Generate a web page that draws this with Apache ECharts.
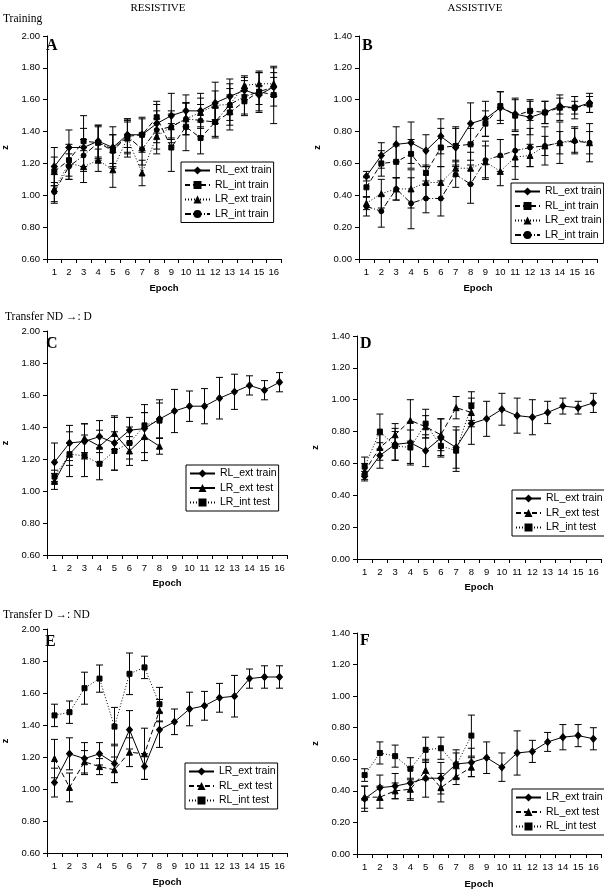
<!DOCTYPE html>
<html><head><meta charset="utf-8">
<script src="https://cdn.jsdelivr.net/npm/echarts@6/dist/echarts.min.js"></script>
<style>html,body{margin:0;padding:0;background:#fff}#c{width:604px;height:890px}</style>
</head><body><div id="c"></div>
<script>
const epochs = ['1','2','3','4','5','6','7','8','9','10','11','12','13','14','15','16'];
const yTicksR = [0.6, 2.0, 0.2];   // resistive panels: min, max, step
const yTicksA = [0.0, 1.4, 0.2];   // assistive panels

// Panel A – Resistive, training
const A_RLext = [1.18,1.30,1.30,1.34,1.30,1.38,1.38,1.45,1.50,1.53,1.53,1.58,1.62,1.66,1.63,1.68];
const A_RLext_err = [0.12,0.11,0.12,0.10,0.13,0.08,0.11,0.12,0.14,0.10,0.11,0.13,0.11,0.06,0.06,0.06];
const A_RLint = [1.15,1.22,1.34,1.33,1.28,1.37,1.38,1.49,1.30,1.43,1.36,1.46,1.52,1.59,1.65,1.63];
const A_RLint_err = [0.09,0.10,0.16,0.11,0.10,0.11,0.10,0.10,0.15,0.15,0.10,0.10,0.11,0.08,0.13,0.18];
const A_LRext = [1.04,1.20,1.18,1.22,1.16,1.36,1.14,1.37,1.43,1.48,1.52,1.565,1.57,1.69,1.70,1.70];
const A_LRext_err = [0.09,0.10,0.10,0.07,0.11,0.12,0.08,0.11,0.08,0.10,0.09,0.09,0.13,0.06,0.07,0.07];
const A_LRint = [1.02,1.18,1.25,1.33,1.29,1.37,1.29,1.41,1.43,1.48,1.47,1.46,1.57,1.62,1.65,1.68];
const A_LRint_err = [0.06,0.08,0.10,0.10,0.09,0.10,0.10,0.12,0.10,0.10,0.10,0.09,0.10,0.12,0.12,0.12];

// Panel B – Assistive, training
const B_RLext = [0.52,0.65,0.72,0.73,0.68,0.77,0.70,0.85,0.88,0.95,0.91,0.89,0.92,0.96,0.95,0.98];
const B_RLext_err = [0.03,0.08,0.11,0.13,0.10,0.11,0.12,0.13,0.11,0.10,0.10,0.11,0.07,0.05,0.04,0.06];
const B_RLint = [0.45,0.60,0.61,0.66,0.54,0.70,0.71,0.72,0.85,0.96,0.90,0.93,0.92,0.95,0.95,0.97];
const B_RLint_err = [0.06,0.08,0.10,0.09,0.05,0.12,0.12,0.10,0.08,0.09,0.10,0.06,0.07,0.08,0.07,0.05];
const B_LRext = [0.35,0.41,0.44,0.44,0.48,0.48,0.57,0.57,0.61,0.55,0.64,0.65,0.71,0.73,0.75,0.73];
const B_LRext_err = [0.04,0.09,0.07,0.12,0.10,0.10,0.05,0.10,0.10,0.09,0.14,0.07,0.06,0.07,0.08,0.07];
const B_LRint = [0.33,0.30,0.44,0.35,0.38,0.38,0.53,0.47,0.62,0.65,0.68,0.70,0.71,0.73,0.74,0.73];
const B_LRint_err = [0.06,0.10,0.07,0.16,0.09,0.11,0.08,0.12,0.12,0.10,0.10,0.12,0.12,0.13,0.08,0.12];

// Panel C – Resistive, transfer ND -> D
const C_RLext = [1.18,1.30,1.31,1.34,1.30,1.38,1.39,1.45,1.50,1.53,1.53,1.58,1.62,1.66,1.63,1.68];
const C_RLext_err = [0.12,0.11,0.11,0.10,0.17,0.08,0.15,0.12,0.135,0.095,0.11,0.13,0.11,0.06,0.06,0.06];
const C_LRext = [1.06,1.23,1.33,1.28,1.36,1.25,1.34,1.28];
const C_LRext_err = [0.05,0.14,0.09,0.10,0.10,0.09,0.15,0.05];
const C_LRint = [1.09,1.23,1.22,1.17,1.25,1.30,1.41,1.44];
const C_LRint_err = [0.04,0.07,0.13,0.10,0.12,0.10,0.08,0.11];

// Panel D – Assistive, transfer ND -> D
const D_RLext = [0.52,0.65,0.72,0.73,0.68,0.76,0.70,0.85,0.88,0.94,0.90,0.89,0.92,0.96,0.95,0.98];
const D_RLext_err = [0.03,0.08,0.10,0.13,0.10,0.12,0.13,0.13,0.11,0.10,0.11,0.11,0.07,0.05,0.04,0.06];
const D_LRext = [0.55,0.70,0.78,0.87,0.83,0.78,0.95,0.92];
const D_LRext_err = [0.05,0.08,0.07,0.13,0.07,0.10,0.07,0.09];
const D_LRint = [0.58,0.80,0.71,0.70,0.85,0.71,0.68,0.96];
const D_LRint_err = [0.06,0.11,0.09,0.11,0.09,0.06,0.13,0.09];

// Panel E – Resistive, transfer D -> ND
const E_LRext = [1.04,1.22,1.19,1.22,1.16,1.37,1.14,1.37,1.42,1.50,1.52,1.57,1.58,1.69,1.70,1.70];
const E_LRext_err = [0.09,0.10,0.10,0.07,0.12,0.12,0.08,0.11,0.08,0.105,0.09,0.09,0.13,0.06,0.07,0.07];
const E_RLext = [1.19,1.01,1.17,1.14,1.12,1.23,1.22,1.49];
const E_RLext_err = [0.12,0.09,0.07,0.05,0.08,0.09,0.16,0.07];
const E_RLint = [1.46,1.48,1.63,1.69,1.39,1.72,1.76,1.53];
const E_RLint_err = [0.07,0.07,0.10,0.085,0.12,0.13,0.07,0.105];

// Panel F – Assistive, transfer D -> ND
const F_LRext = [0.35,0.42,0.43,0.45,0.48,0.48,0.57,0.58,0.61,0.55,0.64,0.65,0.71,0.74,0.75,0.73];
const F_LRext_err = [0.08,0.08,0.08,0.10,0.12,0.10,0.09,0.09,0.10,0.09,0.14,0.07,0.06,0.08,0.07,0.07];
const F_RLext = [0.36,0.36,0.40,0.41,0.53,0.42,0.49,0.55];
const F_RLext_err = [0.07,0.07,0.05,0.07,0.06,0.09,0.05,0.06];
const F_RLint = [0.50,0.64,0.62,0.54,0.66,0.67,0.56,0.75];
const F_RLint_err = [0.04,0.07,0.07,0.07,0.08,0.07,0.08,0.13];

const SANS = "'Liberation Sans', Arial, sans-serif";
const SERIF = "'Liberation Serif', 'Times New Roman', serif";

const STY = {
  solidDiamond: {type:'solid', symbol:'diamond', size:[6,7]},
  solidTriangle: {type:'solid', symbol:'triangle', size:6},
  dashSquare: {type:[5,3], symbol:'rect', size:5},
  dashTriangle: {type:[5,3], symbol:'triangle', size:6},
  dotTriangle: {type:[1,2], symbol:'triangle', size:6},
  dotSquare: {type:[1,2], symbol:'rect', size:5},
  dashDotCircle: {type:[6,2,1,2], symbol:'circle', size:5}
};

const grids = [
  {left:43, top:36, width:238, height:223},
  {left:359, top:36, width:238, height:223},
  {left:42, top:331, width:245, height:224},
  {left:357, top:336, width:244, height:223},
  {left:42, top:629, width:245, height:224},
  {left:357, top:633, width:244, height:222}
];
const yRanges = [yTicksR, yTicksA, yTicksR, yTicksA, yTicksR, yTicksA];
const nameGaps = [24, 24, 23, 23, 24, 25];

const panels = [
  [ ['RL_ext train', A_RLext, A_RLext_err, 'solidDiamond'],
    ['RL_int train', A_RLint, A_RLint_err, 'dashSquare'],
    ['LR_ext train', A_LRext, A_LRext_err, 'dotTriangle'],
    ['LR_int train', A_LRint, A_LRint_err, 'dashDotCircle'] ],
  [ ['RL_ext train', B_RLext, B_RLext_err, 'solidDiamond'],
    ['RL_int train', B_RLint, B_RLint_err, 'dashSquare'],
    ['LR_ext train', B_LRext, B_LRext_err, 'dotTriangle'],
    ['LR_int train', B_LRint, B_LRint_err, 'dashDotCircle'] ],
  [ ['RL_ext train', C_RLext, C_RLext_err, 'solidDiamond'],
    ['LR_ext test', C_LRext, C_LRext_err, 'solidTriangle'],
    ['LR_int test', C_LRint, C_LRint_err, 'dotSquare'] ],
  [ ['RL_ext train', D_RLext, D_RLext_err, 'solidDiamond'],
    ['LR_ext test', D_LRext, D_LRext_err, 'dashTriangle'],
    ['LR_int test', D_LRint, D_LRint_err, 'dotSquare'] ],
  [ ['LR_ext train', E_LRext, E_LRext_err, 'solidDiamond'],
    ['RL_ext test', E_RLext, E_RLext_err, 'dashTriangle'],
    ['RL_int test', E_RLint, E_RLint_err, 'dotSquare'] ],
  [ ['LR_ext train', F_LRext, F_LRext_err, 'solidDiamond'],
    ['RL_ext test', F_RLext, F_RLext_err, 'dashTriangle'],
    ['RL_int test', F_RLint, F_RLint_err, 'dotSquare'] ]
];
const legendPos = [[181,162],[511,183],[186,465],[512,490],[185,763],[512,789]];

const xAxis = [], yAxis = [], series = [], legend = [];
grids.forEach((g, i) => {
  xAxis.push({
    type:'category', gridIndex:i, data:epochs, boundaryGap:true,
    name:'Epoch', nameLocation:'middle', nameGap:nameGaps[i],
    nameTextStyle:{fontFamily:SANS, fontWeight:'bold', fontSize:9.5, color:'#000'},
    axisLine:{lineStyle:{color:'#000', width:1}},
    axisTick:{show:true, length:4, lineStyle:{color:'#000'}},
    axisLabel:{fontFamily:SANS, fontSize:9.5, color:'#000', margin:8, interval:0},
    splitLine:{show:false}
  });
  const r = yRanges[i];
  yAxis.push({
    type:'value', gridIndex:i, min:r[0], max:r[1], interval:r[2],
    name:'z', nameLocation:'middle', nameGap:37, nameRotate:90,
    nameTextStyle:{fontFamily:SANS, fontWeight:'bold', fontSize:9, color:'#000'},
    axisLine:{show:true, lineStyle:{color:'#000', width:1}},
    axisTick:{show:true, length:4, lineStyle:{color:'#000'}},
    axisLabel:{fontFamily:SANS, fontSize:9.5, color:'#000', margin:7, formatter:v => v.toFixed(2)},
    splitLine:{show:false}
  });
  // internal series ids are made unique per panel; the legend shows the plain name
  const suffix = '#' + i;
  const names = [];
  panels[i].forEach(([nm, vals, err, sk]) => {
    const st = STY[sk];
    const name = nm + suffix;
    names.push(name);
    series.push({
      type:'custom', xAxisIndex:i, yAxisIndex:i, z:1, silent:true,
      data: vals.map((v, k) => [k, v - err[k], v + err[k]]),
      encode:{x:0, y:[1,2]},
      renderItem:(params, api) => {
        const x = api.value(0);
        const top = api.coord([x, api.value(2)]);
        const bot = api.coord([x, api.value(1)]);
        const cw = 3.5;
        const s = {stroke:'#000', lineWidth:1};
        return {type:'group', children:[
          {type:'line', shape:{x1:top[0], y1:top[1], x2:bot[0], y2:bot[1]}, style:s},
          {type:'line', shape:{x1:top[0]-cw, y1:top[1], x2:top[0]+cw, y2:top[1]}, style:s},
          {type:'line', shape:{x1:bot[0]-cw, y1:bot[1], x2:bot[0]+cw, y2:bot[1]}, style:s}
        ]};
      }
    });
    series.push({
      type:'line', name:name, xAxisIndex:i, yAxisIndex:i, z:3,
      data: vals, symbol:st.symbol, symbolSize:st.size, showSymbol:true,
      lineStyle:{color:'#000', width:1, type:st.type},
      itemStyle:{color:'#000', borderColor:'#000'},
      emphasis:{disabled:true}, animation:false
    });
  });
  legend.push({
    orient:'vertical', left:legendPos[i][0], top:legendPos[i][1],
    data:names, selectedMode:false,
    formatter: n => n.split('#')[0],
    itemWidth:25, itemHeight:10, itemGap:3.5, padding:[3,2,3,3],
    borderColor:'#000', borderWidth:1, backgroundColor:'#fff',
    textStyle:{fontFamily:SANS, fontSize:10.5, color:'#000'}
  });
});

const txt = (x, y, text, font, align) => ({
  type:'text', x:x, y:y,
  style:{text:text, font:font, fill:'#000', textAlign:align || 'left', textVerticalAlign:'middle'}
});
const graphic = [
  txt(158, 8, 'RESISTIVE', "11px " + SERIF, 'center'),
  txt(475, 8, 'ASSISTIVE', "11px " + SERIF, 'center'),
  txt(3, 19, 'Training', "11.5px " + SERIF),
  txt(5, 317, 'Transfer ND \u2192: D', "11.5px " + SERIF),
  txt(3, 615, 'Transfer D \u2192: ND', "11.5px " + SERIF),
  txt(46, 46, 'A', "bold 16px " + SERIF),
  txt(362, 46, 'B', "bold 16px " + SERIF),
  txt(46, 344, 'C', "bold 16px " + SERIF),
  txt(360, 344, 'D', "bold 16px " + SERIF),
  txt(45, 642, 'E', "bold 16px " + SERIF),
  txt(360, 641, 'F', "bold 16px " + SERIF)
];

const chart = echarts.init(document.getElementById('c'), null, {renderer:'canvas'});
chart.setOption({
  animation:false, backgroundColor:'#fff',
  grid:grids, xAxis:xAxis, yAxis:yAxis, series:series, legend:legend, graphic:graphic
});
</script></body></html>
